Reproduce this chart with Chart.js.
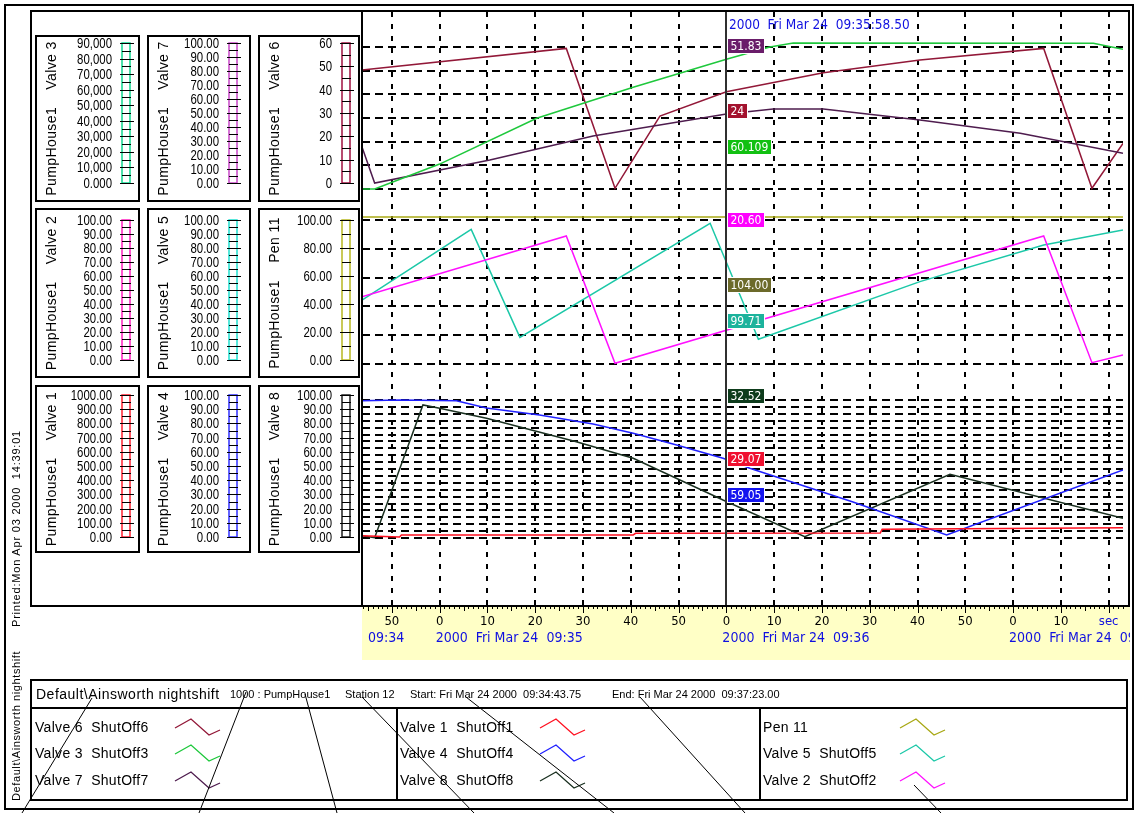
<!DOCTYPE html>
<html>
<head>
<meta charset="utf-8">
<title>PumpHouse1 trend</title>
<script src="https://cdn.jsdelivr.net/npm/chart.js@4.4.1/dist/chart.umd.min.js"></script>
<style>
  html, body { margin: 0; padding: 0; background: #fff; }
  body { position: relative; width: 1138px; height: 813px; overflow: hidden;
         font-family: "Liberation Sans", Arial, sans-serif; color: #000; }
  .frame { position: absolute; border: 2px solid #000; box-sizing: border-box; }
  .bar { position: absolute; background: #000; }
  .txt { position: absolute; white-space: pre; line-height: 16px; }
  .tick { position: absolute; white-space: pre; line-height: 16px; text-align: right;
          font-size: 15px; transform: scaleX(0.76); transform-origin: right center; }
  .rot { position: absolute; white-space: pre; line-height: 16px; height: 16px;
         transform: rotate(-90deg); transform-origin: left top; }
  #trend { position: absolute; left: 362px; top: 12px; }
  #deco { position: absolute; left: 0; top: 0; }
</style>
</head>
<body>
<canvas id="trend" width="768" height="648"></canvas>
<script>
// time = seconds after 09:34:00, Fri Mar 24 2000
const startTime = 43.75;   // Start 09:34:43.75
const endTime = 203;       // End   09:37:23.00
const cursorTime = 119.9;  // cursor line as drawn
const timeTicks = [50, 60, 70, 80, 90, 100, 110, 120, 130, 140, 150, 160, 170, 180, 190, 200];
const minuteStarts = [60, 120, 180];
const minuteLabels = ["2000  Fri Mar 24  09:35", "2000  Fri Mar 24  09:36", "2000  Fri Mar 24  09:37"];

// top pane
const valve3Time = [43.75, 46.4, 60, 80.3, 100.5, 120, 129.1, 134, 196.8, 203];
const valve3Values = [0, 0, 15800, 44800, 64500, 82200, 90000, 92500, 92300, 88500];
const valve7Time = [43.75, 46.4, 70.5, 92.1, 120, 129.8, 140.3, 160.5, 181.5, 203];
const valve7Values = [29.6, 4.2, 20.4, 37.3, 52.8, 56.3, 56.3, 48.6, 39.2, 25.1];
const valve6Time = [43.75, 86.5, 96.7, 106.1, 120, 140.3, 160.5, 186.4, 196.5, 203];
const valve6Values = [50.3, 59.4, 0.3, 30.8, 41.1, 49.1, 54.5, 59.4, 0.3, 19.3];

// middle pane
const valve2Time = [43.75, 86.5, 96.7, 186.4, 196.5, 203];
const valve2Values = [46.7, 88.9, 0.5, 88.9, 0.9, 6.3];
const valve5Time = [43.75, 66.6, 76.8, 116.6, 126.7, 160.5, 186.4, 203];
const valve5Values = [44.4, 93.5, 18.5, 97.7, 17.2, 57.2, 82.6, 93.1];
const pen11Time = [43.75, 203];
const pen11Values = [102, 102];

// bottom pane
const valve1Time = [43.75, 51.6, 52, 100.5, 101, 152.2, 152.6, 203];
const valve1Values = [17, 7, 22, 22, 34, 36, 63, 75];
const valve4Time = [43.75, 51.6, 63.5, 69.8, 80.9, 92.1, 100.5, 109.6, 119.3, 124.9, 146.5, 166.1, 203];
const valve4Values = [99.5, 100, 99.5, 94.2, 89.1, 82.6, 75.9, 67.4, 57.8, 50.5, 26.1, 2.2, 49.3];
const valve8Time = [43.75, 46.4, 56.5, 60, 69.8, 88.6, 100.5, 119.3, 120.7, 136.4, 166.8, 203];
const valve8Values = [1.7, 0.2, 96.4, 94, 86.7, 69.8, 57.8, 27.5, 25.4, 0.9, 46.2, 14.3];

// grid lines of each pane
const topGridTicks = [0, 10, 20, 30, 40, 50, 60];
const midGridTicks = [0, 20, 40, 60, 80, 100];
const botGridTicks = [0, 5, 10, 15, 20, 25, 30, 35, 40, 45, 50, 55, 60, 65, 70, 75, 80, 85, 90, 95, 100];

// tick labels of the axis boxes (top to bottom)
const valve3Ticks = ["90,000", "80,000", "70,000", "60,000", "50,000", "40,000", "30,000", "20,000", "10,000", "0.000"];
const valve7Ticks = ["100.00", "90.00", "80.00", "70.00", "60.00", "50.00", "40.00", "30.00", "20.00", "10.00", "0.00"];
const valve6Ticks = ["60", "50", "40", "30", "20", "10", "0"];
const valve2Ticks = ["100.00", "90.00", "80.00", "70.00", "60.00", "50.00", "40.00", "30.00", "20.00", "10.00", "0.00"];
const valve5Ticks = ["100.00", "90.00", "80.00", "70.00", "60.00", "50.00", "40.00", "30.00", "20.00", "10.00", "0.00"];
const pen11Ticks = ["100.00", "80.00", "60.00", "40.00", "20.00", "0.00"];
const valve1Ticks = ["1000.00", "900.00", "800.00", "700.00", "600.00", "500.00", "400.00", "300.00", "200.00", "100.00", "0.00"];
const valve4Ticks = ["100.00", "90.00", "80.00", "70.00", "60.00", "50.00", "40.00", "30.00", "20.00", "10.00", "0.00"];
const valve8Ticks = ["100.00", "90.00", "80.00", "70.00", "60.00", "50.00", "40.00", "30.00", "20.00", "10.00", "0.00"];

// cursor read-outs
const cursorLabel = "2000  Fri Mar 24  09:35:58.50";
const cursorValues = ["51.83", "24", "60.109", "20.60", "104.00", "99.71", "32.52", "29.07", "59.05"];
const cursorColors = ["#6a1d6a", "#a3122e", "#12c012", "#ff00ff", "#6c6a2a", "#1cb39c", "#0e3c1c", "#f01030", "#1414f0"];
const cursorTops = [38, 103, 139, 212, 277, 313, 388, 451, 487];

// header / footer texts
const headerTitle = "Default\\Ainsworth nightshift";
const headerItems = [["1000 : PumpHouse1", 230], ["Station 12", 345], ["Start: Fri Mar 24 2000  09:34:43.75", 410], ["End: Fri Mar 24 2000  09:37:23.00", 612]];
const printedText = "Printed:Mon Apr 03 2000  14:39:01";

const NARROW = '"DejaVu Sans Condensed", "Liberation Sans Narrow", "Arial Narrow", sans-serif';
const PLOT_TOP = 12, PLOT_BOTTOM = 606;
const bands = { top: [189, 47], mid: [364, 220], bot: [538, 400] }; // page y of 0 and of full scale

const pens = [
  { id: "v3", name: "Valve 3", tag: "ShutOff3", color: "#1ec83c", ruler: "#10d890", full: 90000, pane: "top", t: valve3Time, v: valve3Values, ticks: valve3Ticks },
  { id: "v7", name: "Valve 7", tag: "ShutOff7", color: "#4e1c4e", ruler: "#c848c8", full: 100, pane: "top", t: valve7Time, v: valve7Values, ticks: valve7Ticks },
  { id: "v6", name: "Valve 6", tag: "ShutOff6", color: "#921838", ruler: "#a01040", full: 60, pane: "top", t: valve6Time, v: valve6Values, ticks: valve6Ticks, grid: topGridTicks },
  { id: "v2", name: "Valve 2", tag: "ShutOff2", color: "#ff10ff", ruler: "#ff20c0", full: 100, pane: "mid", t: valve2Time, v: valve2Values, ticks: valve2Ticks },
  { id: "v5", name: "Valve 5", tag: "ShutOff5", color: "#1cc8a8", ruler: "#20e0d0", full: 100, pane: "mid", t: valve5Time, v: valve5Values, ticks: valve5Ticks },
  { id: "p11", name: "Pen 11", tag: "", color: "#a8a814", ruler: "#b8b820", full: 100, pane: "mid", t: pen11Time, v: pen11Values, ticks: pen11Ticks, grid: midGridTicks },
  { id: "v1", name: "Valve 1", tag: "ShutOff1", color: "#ff1020", ruler: "#ff2030", full: 1000, pane: "bot", t: valve1Time, v: valve1Values, ticks: valve1Ticks },
  { id: "v4", name: "Valve 4", tag: "ShutOff4", color: "#2020ff", ruler: "#3030ff", full: 100, pane: "bot", t: valve4Time, v: valve4Values, ticks: valve4Ticks },
  { id: "v8", name: "Valve 8", tag: "ShutOff8", color: "#1a3020", ruler: "#202020", full: 100, pane: "bot", t: valve8Time, v: valve8Values, ticks: valve8Ticks, grid: botGridTicks }
];

// each pen gets its own axis, placed so its range fills its pane band
function bandScale(full, pane) {
  const b = bands[pane], s = (b[0] - b[1]) / full;
  return { min: -(PLOT_BOTTOM - b[0]) / s, max: (b[0] - PLOT_TOP) / s };
}

const scales = {
  x: {
    type: "linear", min: startTime, max: endTime,
    afterBuildTicks: s => { s.ticks = timeTicks.map(v => ({ value: v })); },
    afterFit: s => { s.height = 54; },
    grid: { color: "#000", lineWidth: 2, drawTicks: false },
    border: { display: false, dash: [5, 7] },
    ticks: {
      padding: 8, autoSkip: false, maxRotation: 0,
      font: { family: NARROW, size: 13 },
      color: c => (c.tick && c.tick.value === 200 ? "#1010e0" : "#000"),
      callback: v => (v === 200 ? "sec" : String(v % 60))
    }
  }
};
pens.forEach(p => {
  const r = bandScale(p.full, p.pane);
  const sc = { type: "linear", min: r.min, max: r.max, display: false };
  if (p.grid) {
    Object.assign(sc, {
      display: true,
      afterBuildTicks: s => { s.ticks = p.grid.map(v => ({ value: v })); },
      afterFit: s => { s.width = 0; },
      ticks: { display: false },
      grid: { color: "#000", lineWidth: 2, drawTicks: false },
      border: { display: false, dash: [8, 5] }
    });
  }
  scales[p.id] = sc;
});

const trendDecor = {
  id: "trendDecor",
  beforeDraw(chart) {
    const { ctx, chartArea: a } = chart;
    ctx.save();
    ctx.fillStyle = "#ffffc6";
    ctx.fillRect(a.left, a.bottom, chart.width - a.left, chart.height - a.bottom);
    ctx.restore();
  },
  afterDraw(chart) {
    const { ctx, chartArea: a } = chart;
    const x = chart.scales.x;
    ctx.save();
    // seconds ruler
    ctx.strokeStyle = "#000";
    ctx.lineWidth = 1;
    for (let s = Math.ceil(startTime); s <= endTime; s++) {
      const px = Math.round(x.getPixelForValue(s)) + 0.5;
      const len = s % 10 === 0 ? 7 : s % 5 === 0 ? 5 : 3;
      ctx.beginPath(); ctx.moveTo(px, a.bottom); ctx.lineTo(px, a.bottom + len); ctx.stroke();
    }
    ctx.beginPath(); ctx.moveTo(a.left, a.bottom + 0.5); ctx.lineTo(chart.width, a.bottom + 0.5); ctx.stroke();
    // date row
    ctx.font = "14px " + NARROW;
    ctx.fillStyle = "#1010e0";
    ctx.textBaseline = "middle";
    ctx.fillText("09:34", a.left + 6, a.bottom + 32);
    minuteStarts.forEach((m, i) => ctx.fillText(minuteLabels[i], x.getPixelForValue(m) - 4, a.bottom + 32));
    // cursor
    const cx = Math.round(x.getPixelForValue(cursorTime));
    ctx.strokeStyle = "#303030";
    ctx.lineWidth = 2;
    ctx.beginPath(); ctx.moveTo(cx, a.top); ctx.lineTo(cx, a.bottom); ctx.stroke();
    ctx.font = "13.5px " + NARROW;
    ctx.fillStyle = "#1010e0";
    ctx.fillText(cursorLabel, cx + 3, 25 - PLOT_TOP);
    ctx.font = "12px " + NARROW;
    cursorValues.forEach((val, i) => {
      const w = Math.ceil(ctx.measureText(val).width) + 7;
      const top = cursorTops[i] - PLOT_TOP;
      ctx.fillStyle = cursorColors[i];
      ctx.fillRect(cx + 1, top, w, 16);
      ctx.strokeStyle = "#fff";
      ctx.lineWidth = 1;
      ctx.strokeRect(cx + 1.5, top + 0.5, w - 1, 15);
      ctx.fillStyle = "#fff";
      ctx.fillText(val, cx + 4.5, top + 8.5);
    });
    ctx.restore();
  }
};

new Chart(document.getElementById("trend"), {
  type: "line",
  data: {
    datasets: pens.map(p => ({
      label: p.name,
      data: p.t.map((t, i) => ({ x: t, y: p.v[i] })),
      yAxisID: p.id,
      borderColor: p.color,
      borderWidth: 1.5,
      pointRadius: 0,
      tension: 0,
      fill: false
    }))
  },
  options: {
    responsive: false,
    animation: false,
    devicePixelRatio: 1,
    layout: { padding: { left: 0, right: 7, top: 0, bottom: 0 } },
    plugins: { legend: { display: false }, tooltip: { enabled: false } },
    scales: scales
  },
  plugins: [trendDecor]
});

// ---- page furniture ----
function addDiv(cls, style, text) {
  const d = document.createElement("div");
  d.className = cls;
  Object.assign(d.style, style);
  if (text != null) d.textContent = text;
  document.body.appendChild(d);
  return d;
}
const px = n => n + "px";

addDiv("frame", { left: "4px", top: "4px", width: "1130px", height: "806px" });
addDiv("frame", { left: "30px", top: "10px", width: "1100px", height: "597px" });
addDiv("bar", { left: "361px", top: "10px", width: "2px", height: "597px" });

// axis boxes
const boxCols = [35, 147, 258], boxWidths = [105, 104, 102], labelRight = [77, 72, 74];
const boxRows = [[35, 202], [208, 378], [385, 553]];
const labelSpans = [[43, 183], [220, 360], [395, 537]];

const deco = document.createElementNS("http://www.w3.org/2000/svg", "svg");
deco.id = "deco";
deco.setAttribute("width", "1138");
deco.setAttribute("height", "813");
function svgEl(tag, attrs) {
  const e = document.createElementNS("http://www.w3.org/2000/svg", tag);
  for (const k in attrs) e.setAttribute(k, attrs[k]);
  deco.appendChild(e);
  return e;
}

pens.forEach((p, i) => {
  const col = i % 3, row = Math.floor(i / 3);
  const left = boxCols[col], [top, bottom] = boxRows[row];
  addDiv("frame", { left: px(left), top: px(top), width: px(boxWidths[col]), height: px(bottom - top) });
  addDiv("rot", { left: px(left + 8), top: px(bottom), width: px(bottom - top), textAlign: "center",
                  fontSize: "14px", letterSpacing: "0.4px" }, "PumpHouse1    " + p.name);
  const [y0, y1] = labelSpans[row];
  const n = p.ticks.length, step = (y1 - y0) / (n - 1);
  p.ticks.forEach((lab, k) => {
    addDiv("tick", { left: px(left - 20), width: px(labelRight[col] + 20), top: px(y0 + k * step - 8) }, lab);
  });
  const rx = left + labelRight[col] + 10;
  svgEl("rect", { x: rx, y: y0, width: 8, height: y1 - y0, fill: "none", stroke: p.ruler, "stroke-width": 1.5 });
  for (let k = 0; k < n; k++) {
    const y = Math.round(y0 + k * step) + 0.5;
    svgEl("line", { x1: rx - 2, y1: y, x2: rx + 12, y2: y, stroke: "#000", "stroke-width": 1 });
    if (k < n - 1) {
      const ym = Math.round(y0 + (k + 0.5) * step) + 0.5;
      svgEl("line", { x1: rx, y1: ym, x2: rx + 9, y2: ym, stroke: "#000", "stroke-width": 1 });
    }
  }
});

// side texts
addDiv("rot", { left: "8px", top: "627px", width: "210px", fontSize: "11px", letterSpacing: "0.8px" }, printedText);
addDiv("rot", { left: "8px", top: "801px", width: "160px", fontSize: "11px", letterSpacing: "0.6px" }, headerTitle);

// legend box
addDiv("frame", { left: "30px", top: "679px", width: "1098px", height: "122px" });
addDiv("bar", { left: "30px", top: "707px", width: "1098px", height: "2px" });
addDiv("bar", { left: "396px", top: "708px", width: "2px", height: "92px" });
addDiv("bar", { left: "759px", top: "708px", width: "2px", height: "92px" });
addDiv("txt", { left: "36px", top: "686px", fontSize: "14px", letterSpacing: "0.5px" }, headerTitle);
headerItems.forEach(([t, x]) => addDiv("txt", { left: px(x), top: "686px", fontSize: "11px" }, t));

const legendCols = [["v6", "v3", "v7"], ["v1", "v4", "v8"], ["p11", "v5", "v2"]];
const legendTextX = [35, 400, 763], legendSwatchX = [175, 540, 900], legendRowY = [727, 753, 780];
legendCols.forEach((ids, c) => {
  ids.forEach((id, r) => {
    const p = pens.find(q => q.id === id);
    const y = legendRowY[r];
    addDiv("txt", { left: px(legendTextX[c]), top: px(y - 8), fontSize: "14px", letterSpacing: "0.3px" },
           p.tag ? p.name + "  " + p.tag : p.name);
    const sx = legendSwatchX[c];
    svgEl("polyline", { points: [[sx, y + 1], [sx + 16, y - 8], [sx + 34, y + 8], [sx + 45, y + 3]].map(q => q.join(",")).join(" "),
                        fill: "none", stroke: p.color, "stroke-width": 1.3 });
  });
});

// leader lines
const leaders = [[22, 92, 698], [199, 246, 692], [337, 305, 694], [474, 362, 697], [614, 466, 697], [745, 640, 697], [941, 914, 785]];
leaders.forEach(([xb, xt, yt]) => svgEl("line", { x1: xb, y1: 813, x2: xt, y2: yt, stroke: "#000", "stroke-width": 1 }));

document.body.appendChild(deco);
</script>
</body>
</html>
